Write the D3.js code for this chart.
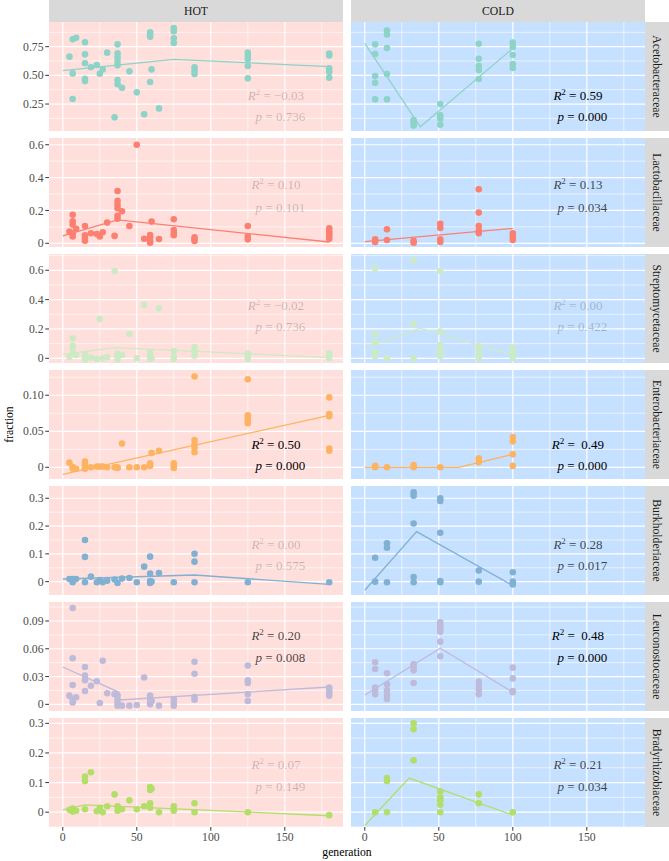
<!DOCTYPE html>
<html><head><meta charset="utf-8">
<script src="https://cdn.jsdelivr.net/npm/d3@7"></script>
<style>body{margin:0;background:#fff}svg{display:block}</style>
</head><body><div id="chart"></div>
<script>
// ---------- DATA ----------
const families = ["Acetobacteraceae","Lactobacillaceae","Streptomycetaceae","Enterobacteriaceae","Burkholderiaceae","Leuconostocaceae","Bradyrhizobiaceae"];
const treatments = ["HOT","COLD"];
const familyColors = ["#8DD3C7","#FB8072","#CCEBC5","#FDB462","#80B1D3","#BEBADA","#B3DE69"];
const xTicks = [0,50,100,150];
const xTickLabels = ["0","50","100","150"];
const yTicks = [[0.25,0.5,0.75],[0,0.2,0.4,0.6],[0,0.2,0.4,0.6],[0,0.05,0.10],[0,0.1,0.2,0.3],[0,0.03,0.06,0.09],[0,0.1,0.2,0.3]];
const yTickLabels = [["0.25","0.50","0.75"],["0","0.2","0.4","0.6"],["0","0.2","0.4","0.6"],["0","0.05","0.10"],["0","0.1","0.2","0.3"],["0","0.03","0.06","0.09"],["0","0.1","0.2","0.3"]];
const yDomains = [[0.015,0.965],[-0.0225,0.641],[-0.032,0.711],[-0.0162,0.135],[-0.048,0.344],[-0.0072,0.1105],[-0.05,0.318]];
const xDomain = [-9.3,189.3];

// points [generation, fraction]
const acetoHot = [[4.5,0.663],[6.7,0.814],[6.7,0.517],[6.7,0.294],[9,0.828],[15,0.788],[15,0.683],[15,0.605],[15,0.471],[15,0.45],[19,0.57],[23,0.59],[25,0.515],[27,0.55],[30,0.698],[35,0.134],[37,0.77],[37,0.692],[37,0.657],[37,0.622],[37,0.587],[37,0.459],[37,0.422],[40,0.392],[45,0.535],[50,0.352],[55,0.16],[59,0.875],[59,0.857],[59,0.837],[59,0.442],[60,0.552],[65,0.212],[75,0.913],[75,0.884],[75,0.823],[75,0.782],[89,0.57],[89,0.541],[89,0.512],[125,0.698],[125,0.669],[125,0.64],[125,0.581],[125,0.474],[180,0.689],[180,0.674],[180,0.561],[180,0.532],[180,0.48]];
const acetoCold = [[7,0.77],[7,0.686],[7,0.494],[7,0.436],[7,0.291],[15,0.89],[15,0.855],[15,0.738],[15,0.512],[15,0.291],[33,0.11],[33,0.087],[33,0.062],[51,0.25],[51,0.151],[51,0.122],[51,0.07],[77,0.776],[77,0.645],[77,0.581],[77,0.547],[77,0.468],[100,0.785],[100,0.747],[100,0.677],[100,0.599],[100,0.564]];
const lactoHot = [[4.5,0.071],[6.7,0.174],[6.7,0.134],[6.7,0.114],[6.7,0.061],[6.7,0.041],[9,0.089],[15,0.105],[15,0.049],[15,0.032],[15,0.016],[19,0.061],[23,0.057],[25,0.041],[27,0.067],[30,0.126],[35,0.045],[37,0.318],[37,0.258],[37,0.233],[37,0.213],[37,0.168],[37,0.15],[40,0.195],[45,0.105],[50,0.6],[55,0.028],[59,0.051],[59,0.037],[59,0.016],[59,0.004],[60,0.132],[65,0.026],[75,0.146],[75,0.081],[75,0.061],[75,0.049],[89,0.037],[89,0.024],[89,0.014],[125,0.105],[125,0.041],[125,0.024],[180,0.091],[180,0.075],[180,0.061],[180,0.045],[180,0.028]];
const lactoCold = [[7,0.024],[7,0.008],[15,0.085],[15,0.02],[33,0.016],[33,0.004],[51,0.118],[51,0.093],[51,0.024],[51,0.008],[77,0.329],[77,0.187],[77,0.105],[77,0.077],[77,0.061],[100,0.061],[100,0.041],[100,0.02]];
const streptoHot = [[4.5,0.009],[6.7,0.136],[6.7,0.086],[6.7,0.068],[6.7,0.032],[9,0.023],[15,0.027],[15,0.005],[15,-0.009],[19,0.005],[23,-0.005],[25,0.268],[27,0],[30,0.009],[35,0.595],[37,0.032],[37,0.014],[37,-0.009],[40,0.023],[45,0.166],[50,0],[55,0.364],[59,0.041],[59,0.014],[59,-0.005],[60,0],[65,0.341],[75,0.05],[75,0.009],[75,-0.005],[89,0.077],[89,0.05],[89,0.018],[125,0.032],[125,0.014],[125,-0.005],[180,0.036],[180,0.018],[180,0]];
const streptoCold = [[7,0.614],[7,0.164],[7,0.109],[7,0.041],[7,0.014],[15,0],[33,0.668],[33,0.236],[33,0],[51,0.595],[51,0.182],[51,0.091],[51,0.064],[51,0.041],[51,0.014],[77,0.082],[77,0.05],[77,0.023],[77,0],[100,0.073],[100,0.05],[100,0.023],[100,0]];
const enteroHot = [[4.5,0.0065],[6.7,0.0005],[6.7,-0.002],[9,-0.002],[15,0.008],[15,0.004],[15,0],[15,-0.002],[19,0],[23,0.001],[25,0.001],[27,0.001],[30,0],[35,0],[37,0],[37,-0.001],[40,0.033],[45,0],[50,0],[55,0],[59,0.0055],[59,0.002],[60,0.02],[65,0.023],[75,0.0055],[75,0.002],[75,-0.001],[89,0.126],[89,0.038],[89,0.032],[89,0.027],[89,0.021],[125,0.122],[125,0.072],[125,0.068],[125,0.064],[125,0.061],[180,0.097],[180,0.074],[180,0.071],[180,0.026],[180,0.023]];
const enteroCold = [[7,0.002],[7,0],[15,0],[33,0.003],[33,0],[51,0],[77,0.0125],[77,0.007],[100,0.042],[100,0.036],[100,0.018],[100,0.002]];
const burkHot = [[4.5,0.0096],[6.7,0.0096],[6.7,-0.002],[9,0.0096],[15,0.15],[15,0.089],[15,-0.002],[19,0.018],[23,-0.002],[25,0.006],[27,-0.002],[30,0.0036],[35,0.008],[37,-0.005],[40,0.011],[45,0.013],[50,-0.002],[55,0.054],[59,0.09],[59,0.029],[59,0.002],[59,-0.005],[60,0],[65,0.031],[75,-0.002],[89,0.1],[89,0.072],[89,-0.002],[125,-0.002],[180,-0.002]];
const burkCold = [[7,0.086],[7,0],[15,0.138],[15,0.122],[15,-0.002],[33,0.321],[33,0.309],[33,0.209],[33,0.017],[33,-0.002],[51,0.3],[51,0.29],[51,0.176],[51,0.002],[51,-0.002],[77,0.04],[77,0],[100,0.034],[100,0],[100,-0.01]];
const leucoHot = [[4.5,0.0094],[6.7,0.104],[6.7,0.0497],[6.7,0.0209],[6.7,0.005],[6.7,0.002],[9,0.0076],[15,0.0403],[15,0.031],[15,0.026],[15,0.0144],[19,0.02],[23,0.025],[25,0.0014],[27,0.047],[30,0.012],[35,0.011],[37,0.0094],[37,0.005],[37,0.0014],[37,-0.0014],[40,-0.0014],[45,-0.0014],[50,-0.0007],[55,0.029],[59,0.0094],[59,0.0058],[59,0.002],[59,0],[60,0.0036],[65,-0.0014],[75,0.0058],[75,0.002],[75,-0.0014],[89,0.046],[89,0.033],[89,0.0079],[89,0.005],[125,0.0418],[125,0.026],[125,0.023],[125,0.011],[125,0.0036],[180,0.018],[180,0.015],[180,0.012],[180,0.0094]];
const leucoCold = [[7,0.0454],[7,0.0382],[7,0.018],[7,0.0151],[7,0.0108],[15,0.0335],[15,0.0216],[15,0.0151],[15,0.0101],[15,0.0058],[33,0.0432],[33,0.0403],[33,0.0367],[33,0.023],[51,0.0886],[51,0.085],[51,0.082],[51,0.0785],[51,0.0677],[51,0.0518],[77,0.0245],[77,0.0202],[77,0.0158],[77,0.0108],[100,0.0396],[100,0.028],[100,0.0144],[100,0.013]];
const bradyHot = [[4.5,0.008],[6.7,0.012],[6.7,0.002],[9,0.005],[15,0.12],[15,0.105],[15,0.01],[19,0.135],[23,0.003],[25,0.015],[27,0],[30,0.02],[35,0.06],[37,0.02],[37,0.005],[40,0.01],[45,0.04],[50,0.01],[55,0.02],[59,0.085],[59,0.075],[59,0.03],[59,0.015],[60,0.08],[65,0.0],[75,0.02],[75,0.005],[89,0.03],[89,0.0],[125,0.0],[180,-0.01]];
const bradyCold = [[7,0.0],[15,0.115],[15,0.105],[15,0.0],[33,0.3],[33,0.28],[33,0.175],[51,0.07],[51,0.05],[51,0.04],[51,0.025],[51,0.0],[77,0.06],[77,0.03],[100,0.0]];

// segmented fits [generation, fraction]
const acetoHotFit = [[0,0.541],[75,0.64],[180,0.576]];
const acetoColdFit = [[0,0.779],[37.5,0.052],[100,0.735]];
const lactoHotFit = [[0,0.045],[37,0.142],[180,0.008]];
const lactoColdFit = [[0,0.01],[100,0.091]];
const streptoHotFit = [[0,0.027],[35,0.073],[180,0.005]];
const streptoColdFit = [[0,0.073],[37.5,0.205],[100,0.023]];
const enteroHotFit = [[0,-0.0097],[180,0.072]];
const enteroColdFit = [[0,0],[63.5,0],[100,0.018]];
const burkHotFit = [[0,0.0096],[89,0.024],[180,-0.0096]];
const burkColdFit = [[0,-0.031],[35,0.18],[100,-0.014]];
const leucoHotFit = [[0,0.0403],[38,0.013],[38,0.0047],[180,0.0187]];
const leucoColdFit = [[0,0.0101],[51,0.0605],[100,0.013]];
const bradyHotFit = [[0,0.008],[15,0.025],[180,-0.012]];
const bradyColdFit = [[0,-0.045],[30,0.115],[100,-0.01]];

const r2Hot = ["\u22120.03","0.10","\u22120.02","0.50","0.00","0.20","0.07"];
const pHot = ["0.736","0.101","0.736","0.000","0.575","0.008","0.149"];
const r2Cold = ["0.59","0.13","0.00","\u00a00.49","0.28","\u00a00.48","0.21"];
const pCold = ["0.000","0.034","0.422","0.000","0.017","0.000","0.034"];

// ---------- LAYOUT ----------
const pointsHot = [acetoHot,lactoHot,streptoHot,enteroHot,burkHot,leucoHot,bradyHot];
const pointsCold = [acetoCold,lactoCold,streptoCold,enteroCold,burkCold,leucoCold,bradyCold];
const fitsHot = [acetoHotFit,lactoHotFit,streptoHotFit,enteroHotFit,burkHotFit,leucoHotFit,bradyHotFit];
const fitsCold = [acetoColdFit,lactoColdFit,streptoColdFit,enteroColdFit,burkColdFit,leucoColdFit,bradyColdFit];
const labelFrac = [[0.676,0.869],[0.425,0.636],[0.468,0.667],[0.682,0.872],[0.541,0.731],[0.309,0.511],[0.43,0.625]];

const W=669,H=861;
const panelTop=22, panelH=109, gapY=7, panelW=294;
const colX=[49,351];
const stripH=22, rStripW=24;
const FONT="'Liberation Serif','Times New Roman',serif";

const svg=d3.select("#chart").append("svg").attr("width",W).attr("height",H).style("font-family",FONT);
const x=d3.scaleLinear().domain(xDomain).range([0,panelW]);
const minorX=[25,75,125,175];
const bgs=["#FFDFDC","#C6E0FF"];

families.forEach((fam,i)=>{
  const top=panelTop+i*(panelH+gapY);
  const y=d3.scaleLinear().domain(yDomains[i]).range([panelH,0]);
  const ticks=yTicks[i];
  const step=ticks[1]-ticks[0];
  const minorY=[];
  for(let v=ticks[0]-step/2; v<=yDomains[i][1]; v+=step){ if(v>=yDomains[i][0]) minorY.push(v); }
  treatments.forEach((tr,j)=>{
    const g=svg.append("g").attr("transform",`translate(${colX[j]},${top})`);
    g.append("rect").attr("width",panelW).attr("height",panelH).attr("fill",bgs[j]);
    g.selectAll(".mny").data(minorY).join("line").attr("x1",0).attr("x2",panelW)
      .attr("y1",d=>y(d)).attr("y2",d=>y(d)).attr("stroke","#fff").attr("stroke-width",0.6);
    g.selectAll(".mnx").data(minorX).join("line").attr("y1",0).attr("y2",panelH)
      .attr("x1",d=>x(d)).attr("x2",d=>x(d)).attr("stroke","#fff").attr("stroke-width",0.6);
    g.selectAll(".mjy").data(ticks).join("line").attr("x1",0).attr("x2",panelW)
      .attr("y1",d=>y(d)).attr("y2",d=>y(d)).attr("stroke","#fff").attr("stroke-width",1.2);
    g.selectAll(".mjx").data(xTicks).join("line").attr("y1",0).attr("y2",panelH)
      .attr("x1",d=>x(d)).attr("x2",d=>x(d)).attr("stroke","#fff").attr("stroke-width",1.2);
    const pts=j===0?pointsHot[i]:pointsCold[i];
    const fit=j===0?fitsHot[i]:fitsCold[i];
    const clip="clip"+i+"_"+j;
    g.append("clipPath").attr("id",clip).append("rect").attr("width",panelW).attr("height",panelH);
    const inner=g.append("g").attr("clip-path",`url(#${clip})`);
    inner.selectAll("circle").data(pts).join("circle")
      .attr("cx",d=>x(d[0])).attr("cy",d=>y(d[1])).attr("r",3.3).attr("fill",familyColors[i]);
    inner.append("path").attr("d",d3.line().x(d=>x(d[0])).y(d=>y(d[1]))(fit))
      .attr("fill","none").attr("stroke",familyColors[i]).attr("stroke-width",1.3);
    // labels
    const pStr=j===0?pHot[i]:pCold[i];
    const r2Str=j===0?r2Hot[i]:r2Cold[i];
    const pv=+pStr;
    const op=pv<0.001?1:(pv<0.05?0.72:0.22);
    const t1=g.append("text").attr("x",x(144)).attr("y",labelFrac[i][0]*panelH+4.5)
      .attr("text-anchor","middle").attr("font-size",13).attr("fill","#000").attr("fill-opacity",op);
    t1.append("tspan").attr("font-style","italic").text("R");
    t1.append("tspan").attr("font-size",9).attr("dy",-5).text("2");
    t1.append("tspan").attr("dy",5).text(" = "+r2Str);
    const t2=g.append("text").attr("x",x(147)).attr("y",labelFrac[i][1]*panelH+4.5)
      .attr("text-anchor","middle").attr("font-size",13).attr("fill","#000").attr("fill-opacity",op);
    t2.append("tspan").attr("font-style","italic").text("p");
    t2.append("tspan").text(" = "+pStr);
  });
  // y axis ticks
  const ga=svg.append("g").attr("transform",`translate(${colX[0]},${top})`);
  ga.selectAll("line").data(ticks).join("line").attr("x1",-3.7).attr("x2",0)
    .attr("y1",d=>y(d)).attr("y2",d=>y(d)).attr("stroke","#333").attr("stroke-width",1);
  ga.selectAll("text").data(ticks).join("text").attr("x",-5.5).attr("y",d=>y(d))
    .attr("dy","0.35em").attr("text-anchor","end").attr("font-size",11.7).attr("fill","#4D4D4D")
    .text((d,k)=>yTickLabels[i][k]);
  // right strip
  const rs=svg.append("g").attr("transform",`translate(${colX[1]+panelW},${top})`);
  rs.append("rect").attr("width",rStripW).attr("height",panelH).attr("fill","#D9D9D9");
  rs.append("text").attr("transform",`translate(${rStripW/2},${panelH/2}) rotate(90)`)
    .attr("text-anchor","middle").attr("dy","0.35em").attr("font-size",11.7).attr("fill","#1A1A1A").text(fam);
});

// top strips
treatments.forEach((tr,j)=>{
  const g=svg.append("g").attr("transform",`translate(${colX[j]},0)`);
  g.append("rect").attr("width",panelW).attr("height",stripH).attr("fill","#D9D9D9");
  g.append("text").attr("x",panelW/2).attr("y",stripH/2).attr("dy","0.35em")
    .attr("text-anchor","middle").attr("font-size",11.7).attr("fill","#1A1A1A").text(tr);
  // x axis
  const bottom=panelTop+7*panelH+6*gapY;
  const ga=svg.append("g").attr("transform",`translate(${colX[j]},${bottom})`);
  ga.selectAll("line").data(xTicks).join("line").attr("x1",d=>x(d)).attr("x2",d=>x(d))
    .attr("y1",0).attr("y2",3.7).attr("stroke","#333").attr("stroke-width",1);
  ga.selectAll("text").data(xTicks).join("text").attr("x",d=>x(d)).attr("y",5.5)
    .attr("dy","0.75em").attr("text-anchor","middle").attr("font-size",11.7).attr("fill","#4D4D4D")
    .text((d,k)=>xTickLabels[k]);
});
const bottomAll=panelTop+7*panelH+6*gapY;
svg.append("text").attr("x",(colX[0]+colX[1]+panelW)/2).attr("y",bottomAll+29)
  .attr("text-anchor","middle").attr("font-size",11.7).attr("fill","#000").text("generation");
svg.append("text").attr("transform",`translate(13,${(panelTop+bottomAll)/2}) rotate(-90)`)
  .attr("text-anchor","middle").attr("font-size",11.7).attr("fill","#000").text("fraction");
</script></body></html>
